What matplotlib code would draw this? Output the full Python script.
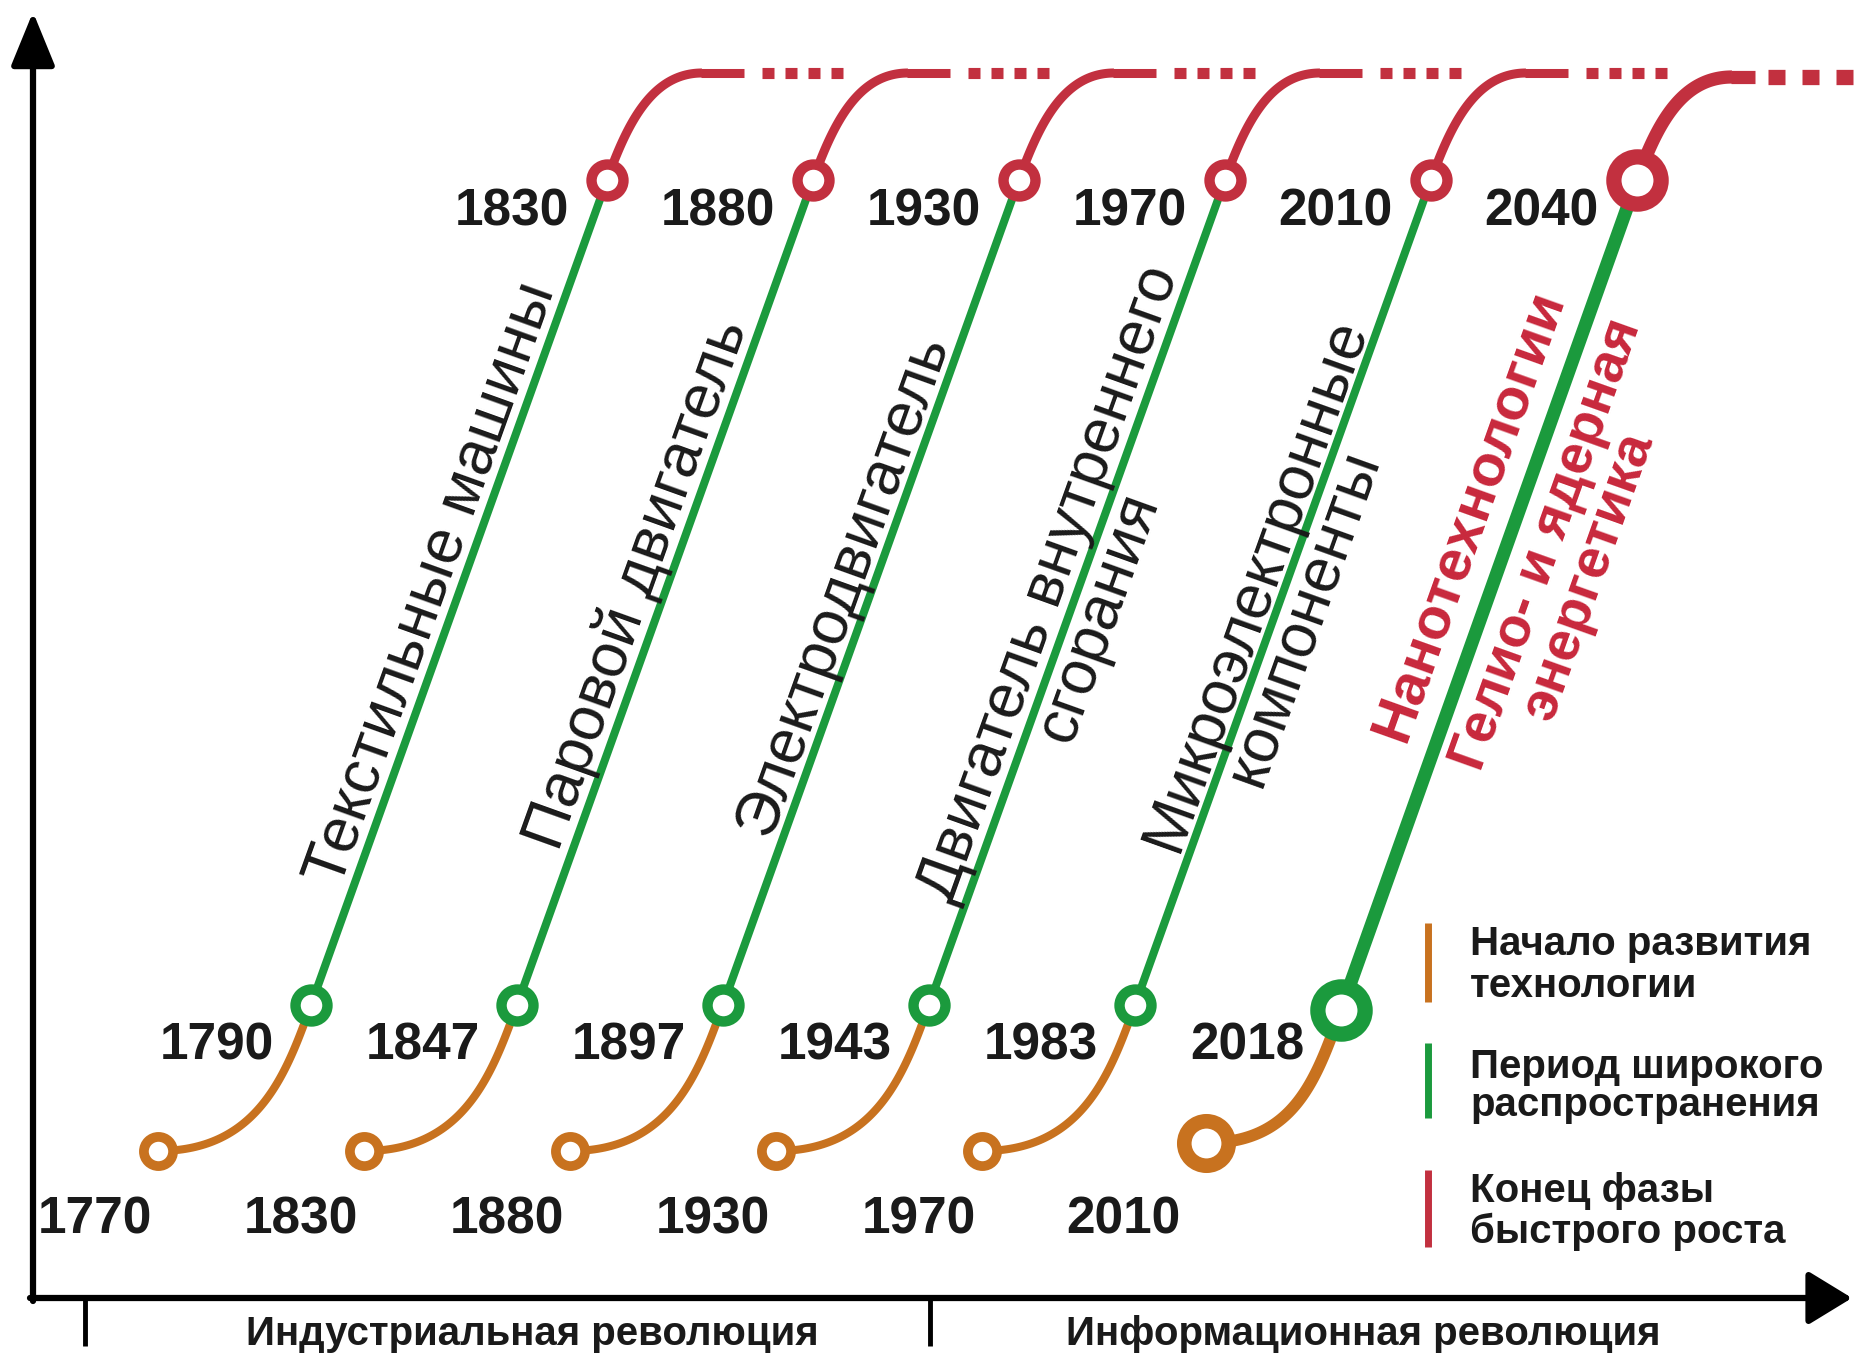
import numpy as np
import matplotlib
matplotlib.use("Agg")
import matplotlib.pyplot as plt

# ---- data -------------------------------------------------------------
start_years = [1770, 1830, 1880, 1930, 1970, 2010]
spread_years = [1790, 1847, 1897, 1943, 1983, 2018]
end_years = [1830, 1880, 1930, 1970, 2010, 2040]
tech_labels = [
    ["Текстильные машины"],
    ["Паровой двигатель"],
    ["Электродвигатель"],
    ["Двигатель внутреннего", "сгорания"],
    ["Микроэлектронные", "компоненты"],
    ["Нанотехнологии", "Гелио- и ядерная", "энергетика"],
]
era_labels = ["Индустриальная революция", "Информационная революция"]
legend_labels = [
    ["Начало развития", "технологии"],
    ["Период широкого", "распространения"],
    ["Конец фазы", "быстрого роста"],
]

# ---- style ------------------------------------------------------------
ORANGE = "#c8721f"
GREEN = "#1b9a3d"
RED = "#c2303f"
RED_TXT = "#c8283c"
INK = "#1a1a1a"
FONT = "Liberation Sans"

W, H = 1864, 1369
fig = plt.figure(figsize=(W / 100, H / 100), dpi=100)
ax = fig.add_axes([0, 0, 1, 1])
ax.set_xlim(0, W)
ax.set_ylim(H, 0)
ax.axis("off")


def bezier(p0, p1, p2, p3, n=80):
    t = np.linspace(0, 1, n)[:, None]
    return (1 - t) ** 3 * p0 + 3 * (1 - t) ** 2 * t * p1 + 3 * (1 - t) * t ** 2 * p2 + t ** 3 * p3


# layout of the repeating "waves"
MID_X0, STEP = 311, 206
RUN, RISE = 296, 825
n = len(start_years)

for i in range(n):
    big = i == n - 1
    mx = MID_X0 + STEP * i
    my = 1005 + (5 if big else 0)
    M = np.array([mx, my], float)
    E = np.array([mx + RUN, 1005 - RISE], float)
    S = np.array([mx - (135 if big else 153), 1143 if big else 1151], float)
    top = 77 if big else 73
    d = (E - M) / np.linalg.norm(E - M)
    nrm = np.array([d[1], -d[0]])
    ang = np.degrees(np.arctan2(-d[1], d[0]))

    lw_o, lw_g, lw_r = (8.5, 9.5, 9.5) if big else (5.8, 5.8, 6.5)

    # orange: start of development
    orange = bezier(S, S + [0.65 * (mx - S[0]), 0], M - 75 * d, M)
    ax.plot(orange[:, 0], orange[:, 1], color=ORANGE, lw=lw_o, solid_capstyle="butt", zorder=2)
    # green: wide adoption
    ax.plot([M[0], E[0]], [M[1], E[1]], color=GREEN, lw=lw_g, solid_capstyle="butt", zorder=2)
    # red: saturation
    red = bezier(E, E + 60 * d, np.array([E[0] + 45, top]), np.array([E[0] + 95, top]))
    ax.plot(red[:, 0], red[:, 1], color=RED, lw=lw_r, solid_capstyle="butt", zorder=2)
    flat_end = E[0] + (118 if big else 137)
    ax.plot([E[0] + 94, flat_end], [top, top], color=RED, lw=lw_r, solid_capstyle="butt", zorder=2)
    dot_len, dot_gap, ndots = (17, 17, 3) if big else (12, 11, 4)
    x = flat_end + (13 if big else 18)
    for _ in range(ndots):
        ax.plot([x, x + dot_len], [top, top], color=RED, lw=(11 if big else 8), solid_capstyle="butt", zorder=2)
        x += dot_len + dot_gap

    # circles
    ms, mew = (34, 11) if big else (23, 7.5)
    ms_s, mew_s = (32, 10.5) if big else (21, 7)
    ax.plot(*S, "o", ms=ms_s, mew=mew_s, mec=ORANGE, mfc="white", zorder=3)
    ax.plot(*M, "o", ms=ms, mew=mew, mec=GREEN, mfc="white", zorder=3)
    ax.plot(*E, "o", ms=ms, mew=mew, mec=RED, mfc="white", zorder=3)

    # years
    yfont = dict(family=FONT, weight="bold", fontsize=37, color=INK, va="baseline", zorder=4)
    ax.text(S[0] - (25 if big else 6), 1234, str(start_years[i]), ha="right", **yfont)
    ax.text(M[0] - 37, 1060, str(spread_years[i]), ha="right", **yfont)
    ax.text(E[0] - 38, 226, str(end_years[i]), ha="right", **yfont)

    # technology labels along the green line
    lines = tech_labels[i]
    if big:
        specs = [(509, 30, 42), (508, -52, 40), (492, -102, 40)]
        tkw = dict(family=FONT, weight="bold", color=RED_TXT)
    else:
        specs = [(437, 12, 45), (422, -45, 45)]
        tkw = dict(family=FONT, weight="normal", color=INK)
    for txt, (along, off, fs) in zip(lines, specs):
        p = M + along * d + off * nrm
        ax.text(p[0], p[1], txt, rotation=ang, rotation_mode="anchor",
                ha="center", va="baseline", fontsize=fs, zorder=4, **tkw)

# ---- axes with arrows -------------------------------------------------
OX, OY = 33, 1298
ax.annotate("", xy=(OX, 12), xytext=(OX, OY + 3),
            arrowprops=dict(arrowstyle="-|>,head_length=1.1,head_width=0.45", lw=4.5,
                            color="black", shrinkA=0, shrinkB=0, mutation_scale=30))
ax.annotate("", xy=(1852, OY), xytext=(OX - 3, OY),
            arrowprops=dict(arrowstyle="-|>,head_length=0.9,head_width=0.55", lw=4.5,
                            color="black", shrinkA=0, shrinkB=0, mutation_scale=30))
for tx in (85, 930):
    ax.plot([tx, tx], [OY, 1346], color="black", lw=3.5, solid_capstyle="butt")
for cx, lab in zip((532, 1363), era_labels):
    ax.text(cx, 1345, lab, ha="center", va="baseline", family=FONT, weight="bold",
            fontsize=29, color=INK)

# ---- legend -----------------------------------------------------------
bar_spans = [(923, 1002), (1043, 1118), (1170, 1247)]
baselines = [(955, 997), (1078, 1116), (1202, 1243)]
for col, (y0, y1), (b0, b1), labs in zip([ORANGE, GREEN, RED], bar_spans, baselines, legend_labels):
    ax.plot([1428, 1428], [y0, y1], color=col, lw=5, solid_capstyle="butt")
    for b, t in zip((b0, b1), labs):
        ax.text(1470, b, t, ha="left", va="baseline", family=FONT, weight="bold",
                fontsize=29, color=INK)

fig.savefig("out.png", dpi=100, facecolor="white")
